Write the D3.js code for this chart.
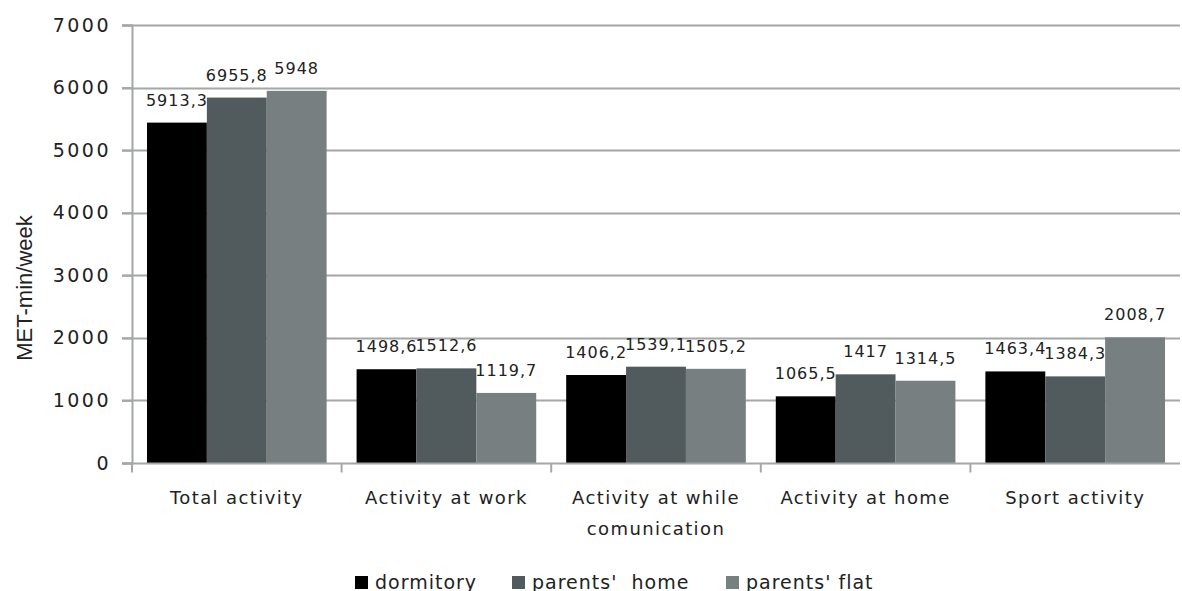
<!DOCTYPE html>
<html>
<head>
<meta charset="utf-8">
<script src="https://cdn.jsdelivr.net/npm/d3@7"></script>
<style>
  body { margin: 0; background: #fff; }
  svg text { font-family: "DejaVu Sans", Verdana, sans-serif; fill: #222; }
</style>
</head>
<body>
<script>
var categories = ["Total activity", "Activity at work", "Activity at while comunication", "Activity at home", "Sport activity"],
	series = ["dormitory", "parents'  home", "parents' flat"],
	colors = ["#000000", "#515a5c", "#787f81"],
	// bar heights as drawn in the picture
	dormitory = [5440, 1498.6, 1406.2, 1065.5, 1463.4],
	parentsHome = [5840, 1512.6, 1539.1, 1417, 1384.3],
	parentsFlat = [5948, 1119.7, 1505.2, 1314.5, 2008.7],
	// value labels printed above the bars
	dormitoryLabels = ["5913,3", "1498,6", "1406,2", "1065,5", "1463,4"],
	parentsHomeLabels = ["6955,8", "1512,6", "1539,1", "1417", "1384,3"],
	parentsFlatLabels = ["5948", "1119,7", "1505,2", "1314,5", "2008,7"],
	yTicks = [0, 1000, 2000, 3000, 4000, 5000, 6000, 7000];

var values = [dormitory, parentsHome, parentsFlat],
	labels = [dormitoryLabels, parentsHomeLabels, parentsFlatLabels];

var width = 1182,
	height = 591,
	lPad = 132,
	rPad = 2,
	tPad = 25,
	bPad = 128;

var svg = d3.select("body").append("svg")
	.attr("width", width)
	.attr("height", height);

var xScale = d3.scaleBand()
	.domain(categories)
	.range([lPad, width - rPad])
	.paddingInner(0.143)
	.paddingOuter(0.0715);

var xSub = d3.scaleBand()
	.domain(d3.range(series.length))
	.range([0, xScale.bandwidth()]);

var yScale = d3.scaleLinear()
	.domain([0, 7000])
	.range([height - bPad, tPad]);

//gridlines
svg.append("g")
	.selectAll("line")
	.data(yTicks.slice(1))
	.enter().append("line")
	.attr("x1", lPad - 10)
	.attr("x2", width - rPad)
	.attr("y1", function(d) { return Math.round(yScale(d)) + 0.5; })
	.attr("y2", function(d) { return Math.round(yScale(d)) + 0.5; })
	.style("stroke", "#a3a7a8")
	.style("stroke-width", 2);

//y axis
var yAxis = svg.append("g")
	.attr("transform", "translate(" + lPad + ",0)")
	.call(d3.axisLeft(yScale).tickValues(yTicks).tickSize(10).tickPadding(11).tickFormat(d3.format("d")));
yAxis.select(".domain").style("stroke", "#a3a7a8").style("stroke-width", 2);
yAxis.selectAll(".tick line").style("stroke", "#a3a7a8").style("stroke-width", 2);
yAxis.selectAll(".tick text")
	.style("font-size", "19px")
	.style("letter-spacing", "2.5px")
	.style("fill", "#222");

//bars
for (var s = 0; s < series.length; s++) {
	svg.append("g")
		.selectAll("rect")
		.data(values[s])
		.enter().append("rect")
		.attr("x", function(d, i) { return xScale(categories[i]) + xSub(s); })
		.attr("y", function(d) { return yScale(d); })
		.attr("width", xSub.bandwidth())
		.attr("height", function(d) { return yScale(0) - yScale(d); })
		.style("fill", colors[s]);
	svg.append("g")
		.selectAll("text")
		.data(values[s])
		.enter().append("text")
		.attr("x", function(d, i) { return xScale(categories[i]) + xSub(s) + xSub.bandwidth() / 2; })
		.attr("y", function(d) { return yScale(d) - 17; })
		.attr("text-anchor", "middle")
		.style("font-size", "16px")
		.style("letter-spacing", "1px")
		.text(function(d, i) { return labels[s][i]; });
}

//x axis
var y0 = Math.round(yScale(0)) + 0.5;
svg.append("line")
	.attr("x1", lPad - 10).attr("x2", width - rPad)
	.attr("y1", y0).attr("y2", y0)
	.style("stroke", "#a3a7a8").style("stroke-width", 2);
var bounds = categories.map(function(c) { return xScale(c) - xScale.step() * xScale.paddingInner() / 2; });
svg.append("g")
	.selectAll("line")
	.data(bounds)
	.enter().append("line")
	.attr("x1", function(d) { return d; })
	.attr("x2", function(d) { return d; })
	.attr("y1", y0)
	.attr("y2", y0 + 9)
	.style("stroke", "#a3a7a8").style("stroke-width", 2);

var catText = svg.append("g")
	.selectAll("text")
	.data(categories)
	.enter().append("text")
	.attr("x", function(d) { return xScale(d) + xScale.bandwidth() / 2; })
	.attr("y", y0 + 40)
	.attr("text-anchor", "middle")
	.style("font-size", "18px")
	.style("letter-spacing", "1.4px");
catText.each(function(d) {
	var parts = d == "Activity at while comunication" ? ["Activity at while", "comunication"] : [d];
	var t = d3.select(this);
	parts.forEach(function(p, k) {
		t.append("tspan")
			.attr("x", xScale(d) + xScale.bandwidth() / 2)
			.attr("dy", k == 0 ? 0 : 31)
			.text(p);
	});
});

//y axis title
svg.append("text")
	.attr("transform", "translate(32,288) rotate(-90)")
	.attr("text-anchor", "middle")
	.style("font-family", "'Liberation Sans', Arial, sans-serif")
	.style("font-size", "22px")
	.text("MET-min/week");

//legend
var legendX = [355, 512, 726];
var legend = svg.append("g")
	.selectAll("g")
	.data(series)
	.enter().append("g")
	.attr("transform", function(d, i) { return "translate(" + legendX[i] + ",589)"; });
legend.append("rect")
	.attr("x", 0).attr("y", -13)
	.attr("width", 13).attr("height", 13)
	.style("fill", function(d, i) { return colors[i]; });
legend.append("text")
	.attr("x", 20)
	.attr("y", 0)
	.style("font-size", "19px")
	.style("letter-spacing", "1px")
	.style("white-space", "pre")
	.text(function(d) { return d; });
</script>
</body>
</html>
